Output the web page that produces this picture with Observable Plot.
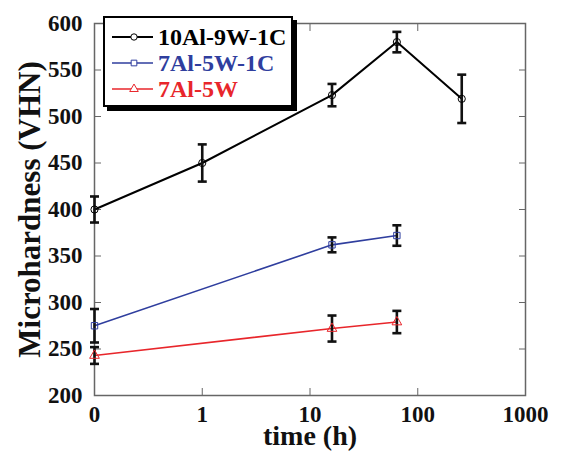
<!DOCTYPE html>
<html><head><meta charset="utf-8">
<script src="https://cdn.jsdelivr.net/npm/d3@7"></script>
<script src="https://cdn.jsdelivr.net/npm/@observablehq/plot@0.6"></script>
<style>
body{margin:0;background:#fff;}
#wrap{position:relative;width:561px;height:454px;font-family:'Liberation Serif','Times New Roman',Times,serif;}
#wrap svg text{font-family:'Liberation Serif','Times New Roman',Times,serif;}
#legend{position:absolute;left:103px;top:16px;width:186px;height:87px;border:2px solid #000;box-shadow:4px 4px 0 #000;background:#fff;}
</style></head><body><div id="wrap"></div>
<script>
const seriesNames = ["10Al-9W-1C", "7Al-5W-1C", "7Al-5W"];
const seriesColors = ["#000000", "#2f3e9e", "#e8262b"];
const seriesSymbols = ["circle", "square", "triangle"];

const timesA = [0, 1, 16, 64, 256];
const valuesA = [400, 450, 523, 580, 519];
const errA = [14, 20, 12, 11, 26];

const timesB = [0, 16, 64];
const valuesB = [275, 362, 372];
const errB = [18, 8, 11];

const timesC = [0, 16, 64];
const valuesC = [243, 272, 279];
const errC = [9, 14, 12];

const xTickLabels = ["0", "1", "10", "100", "1000"];
const xTickValues = [0.1, 1, 10, 100, 1000]; // "0" sits at the left end of the log axis
const yTicks = [200, 250, 300, 350, 400, 450, 500, 550, 600];

const ZERO_AT = 0.1;
const allTimes = [timesA, timesB, timesC];
const allValues = [valuesA, valuesB, valuesC];
const allErr = [errA, errB, errC];

const rows = [];
seriesNames.forEach((name, s) => {
  allTimes[s].forEach((t, i) => {
    rows.push({series: name, s, t: t === 0 ? ZERO_AT : t, v: allValues[s][i], e: allErr[s][i]});
  });
});

const capSymbol = {draw(ctx, size) { const r = Math.sqrt(size / Math.PI); ctx.moveTo(-r, 0); ctx.lineTo(r, 0); }};

const serif = "'Liberation Serif','Times New Roman',Times,serif";
const marks = [
  Plot.frame({stroke: "#666", strokeWidth: 1.5}),
  Plot.axisX(xTickValues, {anchor: "bottom", tickSize: -7, tickPadding: 17, stroke: "#666",
    tickFormat: d => xTickLabels[xTickValues.indexOf(d)], fontSize: 23, fontWeight: "bold", fill: "#111", label: null}),
  Plot.axisX(xTickValues.slice(1, -1), {anchor: "top", tickSize: -7, stroke: "#666", tickFormat: () => "", label: null}),
  Plot.axisY(yTicks, {anchor: "left", tickSize: -7, tickPadding: 19, stroke: "#666", fontSize: 23, fontWeight: "bold", fill: "#111", label: null}),
  Plot.axisY(yTicks.slice(1, -1), {anchor: "right", tickSize: -7, stroke: "#666", tickFormat: () => "", label: null})
];
seriesNames.forEach((name, s) => {
  const d = rows.filter(r => r.s === s);
  marks.push(Plot.line(d, {x: "t", y: "v", stroke: seriesColors[s], strokeWidth: s === 0 ? 2 : 1.6}));
});
seriesNames.forEach((name, s) => {
  const d = rows.filter(r => r.s === s);
  marks.push(Plot.ruleX(d, {x: "t", y1: r => r.v - r.e, y2: r => r.v + r.e, stroke: "#111", strokeWidth: 2.6}));
  marks.push(Plot.dot(d, {x: "t", y: r => r.v - r.e, symbol: capSymbol, r: 4.5, stroke: "#111", strokeWidth: 2.6}));
  marks.push(Plot.dot(d, {x: "t", y: r => r.v + r.e, symbol: capSymbol, r: 4.5, stroke: "#111", strokeWidth: 2.6}));
});
seriesNames.forEach((name, s) => {
  const d = rows.filter(r => r.s === s);
  marks.push(Plot.dot(d, {x: "t", y: "v", symbol: seriesSymbols[s], r: 3.6, stroke: seriesColors[s], strokeWidth: 1, fill: "none"}));
});
marks.push(Plot.text(["Microhardness (VHN)"], {frameAnchor: "left", textAnchor: "middle", lineAnchor: "middle", dx: -64, rotate: -90, fontSize: 31, fontWeight: "bold", fill: "#111"}));
marks.push(Plot.text(["time (h)"], {frameAnchor: "bottom", textAnchor: "middle", lineAnchor: "middle", dy: 41, fontSize: 28, fontWeight: "bold", fill: "#111"}));

const chart = Plot.plot({
  width: 561, height: 454,
  marginLeft: 94, marginRight: 36, marginTop: 23, marginBottom: 59,
  x: {type: "log", domain: [0.1, 1000]},
  y: {domain: [200, 600]},
  style: {fontFamily: serif, background: "white"},
  marks
});
const wrap = document.getElementById("wrap");
wrap.appendChild(chart);

// legend
const leg = document.createElement("div");
leg.id = "legend";
wrap.appendChild(leg);
const lsvg = d3.select(leg).append("svg").attr("width", 186).attr("height", 87).style("display", "block");
seriesNames.forEach((name, s) => {
  const y = 19 + s * 26;
  lsvg.append("line").attr("x1", 7).attr("x2", 48).attr("y1", y).attr("y2", y)
    .attr("stroke", seriesColors[s]).attr("stroke-width", s === 0 ? 2 : 1.6);
  const sym = s === 0 ? d3.symbolCircle : s === 1 ? d3.symbolSquare : d3.symbolTriangle;
  lsvg.append("path").attr("d", d3.symbol(sym, 3.2 * 3.2 * Math.PI)()).attr("transform", `translate(29,${y})`)
    .attr("fill", "white").attr("stroke", seriesColors[s]).attr("stroke-width", 1);
  lsvg.append("text").attr("x", 53).attr("y", y).attr("dy", "0.35em")
    .style("font-family", serif).attr("font-weight", "bold").attr("font-size", 24)
    .attr("fill", seriesColors[s]).text(name);
});
</script></body></html>
